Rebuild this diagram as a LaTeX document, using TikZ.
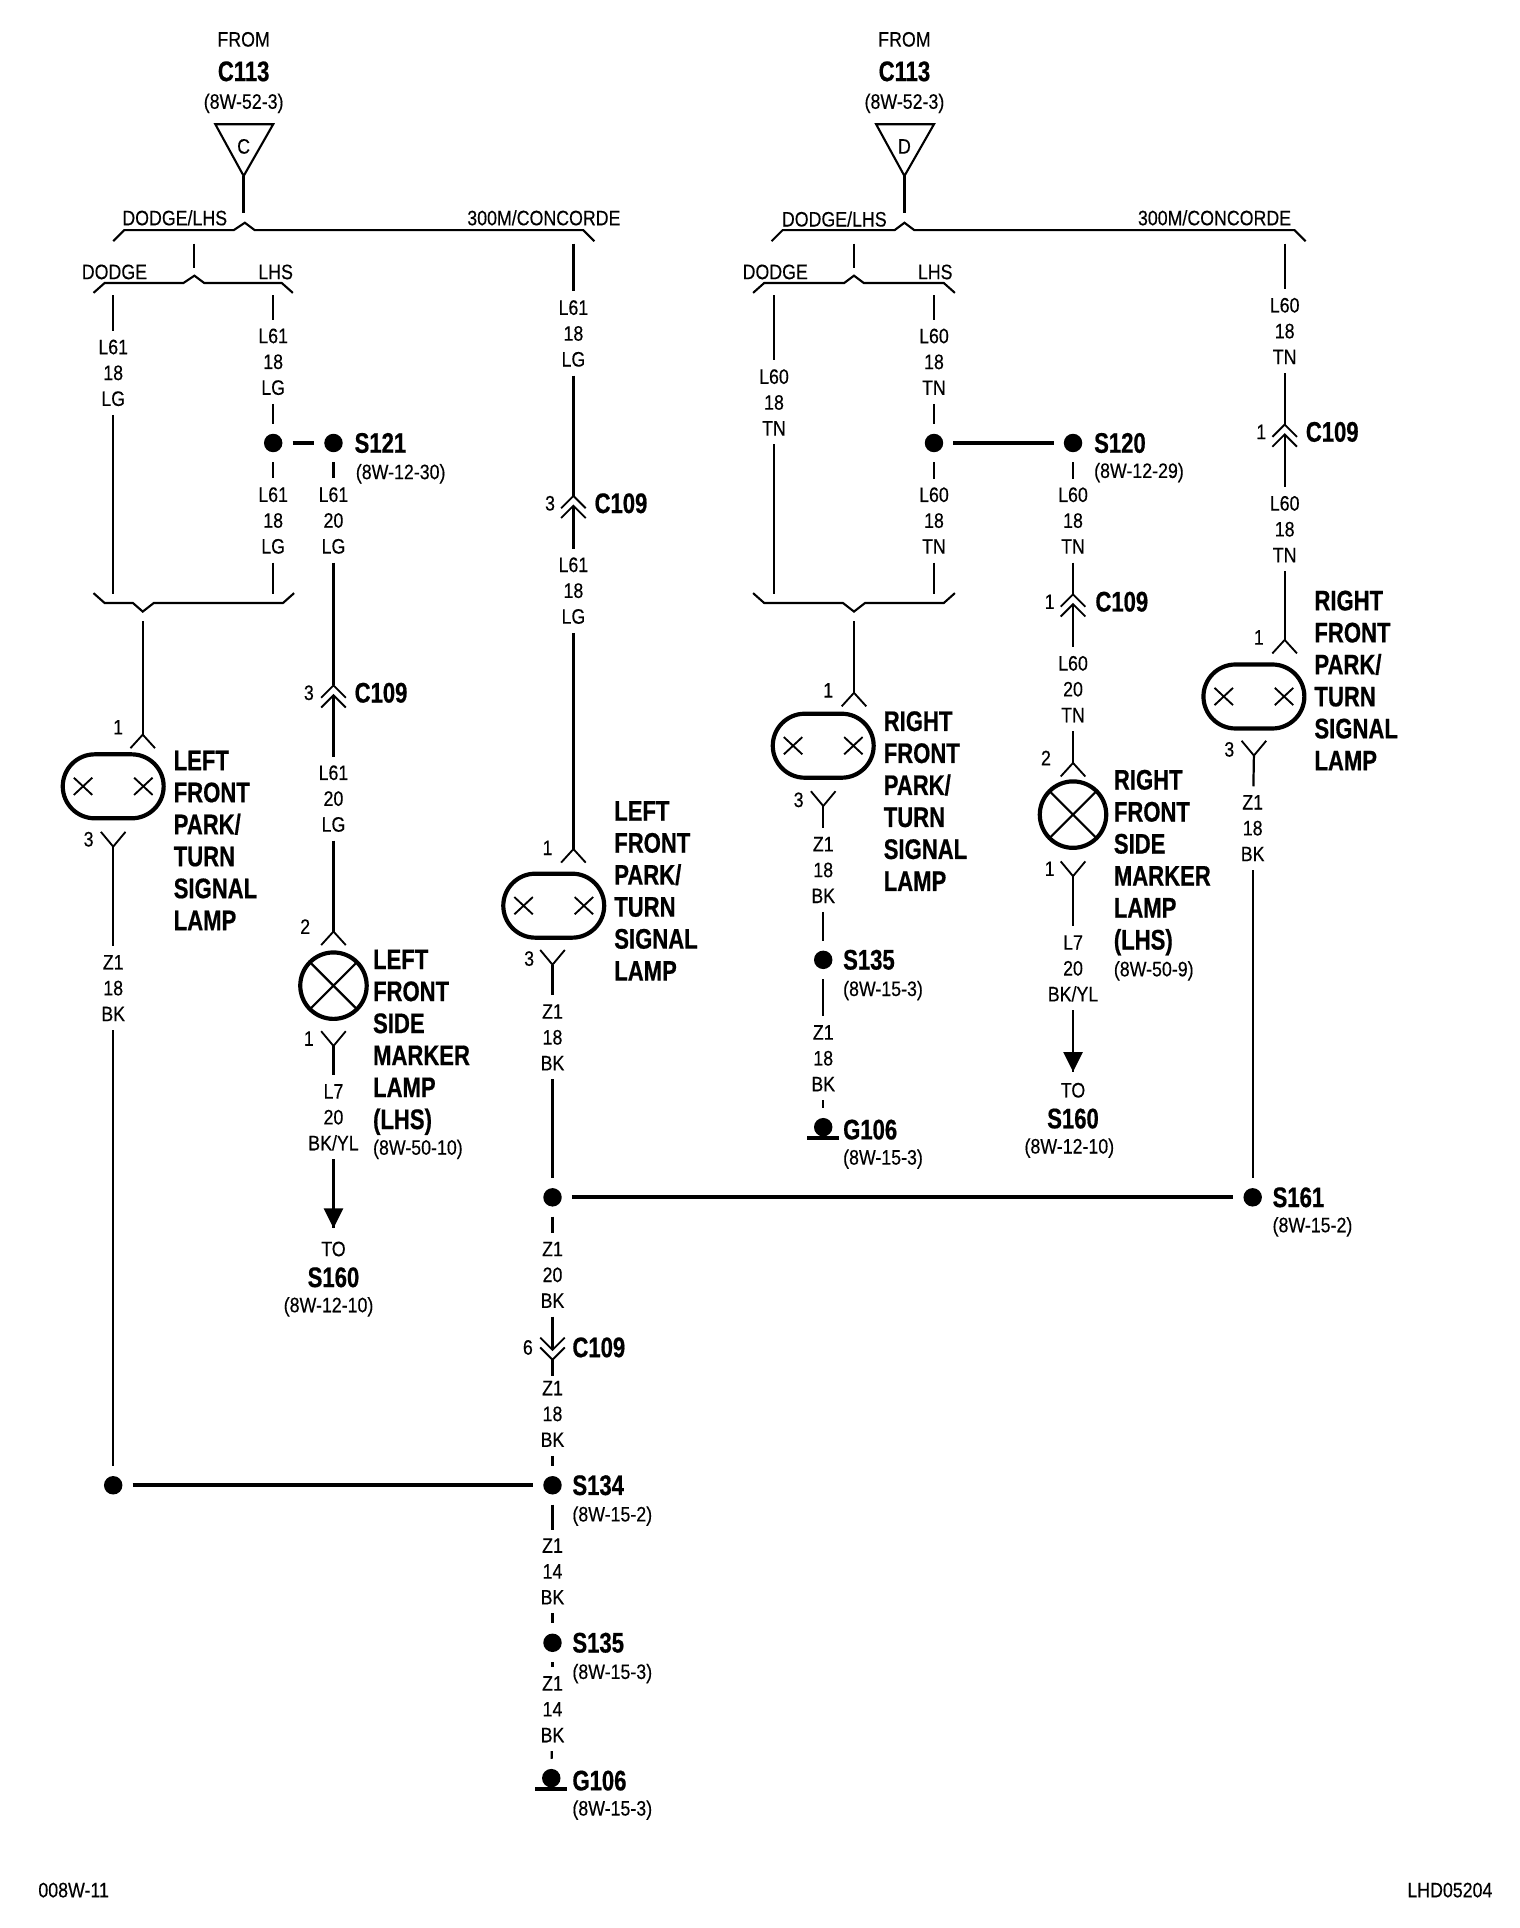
\documentclass[tikz,border=0pt]{standalone}
\usepackage{fontspec}
\setmainfont[FakeStretch=0.85,FakeBold=0.3]{Liberation Sans}
\newfontfamily\namefont[FakeStretch=0.78,FakeBold=0.6,UprightFont=* Bold]{Liberation Sans}
\usetikzlibrary{calc}
\tikzset{
    wire/.style={line width=1.8},
    bus/.style={line width=3},
    gap/.style={shorten >=8, shorten <=8},
    brace/.style={line width=1.7},
    txt/.style={font={\fontsize{17}{21}\selectfont}, inner sep=0, align=center},
    wirelbl/.style={txt, inner xsep=1, inner ysep=7},
    pinno/.style={font={\fontsize{17}{17}\selectfont}, inner sep=0},
    bname/.style={font={\namefont\fontsize{23}{23}\selectfont}, inner sep=0},
    lampname/.style={font={\namefont\fontsize{23}{26}\selectfont}, inner sep=0, align=left, anchor=west},
    ref/.style={txt, anchor=west},
    dot/.style={circle, fill=black, inner sep=0, minimum size=15},
    plugup/.pic={\draw[line width=1.5] (-10,11) -- (0,0) -- (10,11);},
    plugdown/.pic={\draw[line width=1.5] (-10,-12) -- (0,0) -- (10,-12);},
    dblup/.pic={\draw[line width=1.5] (-10,10) -- (0,0) -- (10,10) (-10,18) -- (0,8) -- (10,18);},
    dbldown/.pic={\draw[line width=1.5] (-10,-10) -- (0,0) -- (10,-10) (-10,-2) -- (0,8) -- (10,-2);},
    ovallamp/.pic={
        \draw[line width=3.4, rounded corners=26] (-41,-26) rectangle (41,26);
        \draw[line width=1.5] (-32,-7) -- (-17,7) (-32,7) -- (-17,-7) (17,-7) -- (32,7) (17,7) -- (32,-7);
    },
    roundlamp/.pic={
        \draw[line width=3.4] (0,0) circle [radius=27];
        \draw[line width=1.8] (45:27) -- (225:27) (135:27) -- (315:27);
    },
    earth/.pic={\draw[line width=3.2] (-13,9) -- (13,9);},
    arrowend/.pic={\fill (-8,-16) -- (8,-16) -- (0,0) -- cycle;}
}
\begin{document}
\begin{tikzpicture}[x=1pt,y=-1pt]
\useasboundingbox (0,0) rectangle (1235.2,1566.8);

% left feed
\node[txt] (fromC) at (198,32) {FROM};
\node[bname] (cC) at (198,58) {C113};
\node[txt] (refC) at (198,84) {(8W-52-3)};
\coordinate (triCa) at (175,101);
\coordinate (triCb) at (222,101);
\coordinate (tipC) at (198,143);
\draw[line width=1.7] (triCa) -- (triCb) -- (tipC) -- cycle;
\node[pinno] (letC) at (198,119) {C};
\coordinate (busC) at (198,173);
\draw[line width=2.2] (tipC) -- (busC);
\draw[brace] (92,196) -- (101,187) -- (190,187) -- (199,181) -- (207,187) -- (474,187) -- (483,196);
\node[txt] (dlC) at (142,177) {DODGE/LHS};
\node[txt] (cnC) at (442,177) {300M/CONCORDE};
\draw[brace] (158,198) -- (158,218);
\draw[brace] (76,238) -- (85,230) -- (149,230) -- (158,224) -- (166,230) -- (229,230) -- (238,238);
\node[txt] (doC) at (93,221) {DODGE};
\node[txt] (lhC) at (224,221) {LHS};

% left dodge wire
\coordinate (a1) at (92,240);
\coordinate (a2) at (92,483);
\node[wirelbl] (lblA) at (92,303) {L61\\18\\LG};
\draw[wire] (a1) -- (lblA);
\draw[wire] (lblA) -- (a2);

% left lhs wire
\coordinate (b1) at (222,240);
\coordinate (b2) at (222,483);
\node[wirelbl] (lblB) at (222,294) {L61\\18\\LG};
\node[dot] (dotB) at (222,360) {};
\node[wirelbl] (lblC) at (222,423) {L61\\18\\LG};
\draw[wire] (b1) -- (lblB);
\draw[wire, shorten >=8] (lblB) -- (dotB);
\draw[wire, shorten <=8] (dotB) -- (lblC);
\draw[wire] (lblC) -- (b2);

% S121 branch
\node[dot] (s121) at (271,360) {};
\node[bname, anchor=west] (s121t) at (288,360) {S121};
\node[ref] (s121r) at (289,385) {(8W-12-30)};
\draw[bus, gap] (dotB) -- (s121);
\node[wirelbl] (lblD) at (271,423) {L61\\20\\LG};
\coordinate (c109a) at (271,557);
\coordinate (c109b) at (271,565);
\node[wirelbl] (lblE) at (271,649) {L61\\20\\LG};
\coordinate (pinA) at (271,757);
\draw[wire, shorten <=8] (s121) -- (lblD);
\draw[wire] (lblD) -- (c109a);
\draw[wire] (c109b) -- (lblE);
\draw[wire] (lblE) -- (pinA);
\pic at (c109a) {dblup};
\node[pinno] (noA) at (251,563) {3};
\node[bname, anchor=west] (c109t) at (288,563) {C109};
\pic at (pinA) {plugup};
\node[pinno] (noB) at (248,753) {2};
\pic at (271,801) {roundlamp};
\node[lampname] (lampA) at (303,847) {LEFT\\FRONT\\SIDE\\MARKER\\LAMP\\(LHS)};
\node[ref] (lampAr) at (303,934) {(8W-50-10)};
\coordinate (pinB) at (271,850);
\pic at (pinB) {plugdown};
\node[pinno] (noC) at (251,844) {1};
\node[wirelbl] (lblF) at (271,908) {L7\\20\\BK/YL};
\coordinate (endA) at (271,998);
\draw[wire] (pinB) -- (lblF);
\draw[wire] (lblF) -- (endA);
\pic at (endA) {arrowend};
\node[txt] (toA) at (271,1015) {TO};
\node[bname] (toAn) at (271,1038) {S160};
\node[txt] (toAr) at (267,1062) {(8W-12-10)};

% left join and lamp
\draw[brace] (76,482) -- (85,490) -- (108,490) -- (116,497) -- (125,490) -- (230,490) -- (239,482);
\coordinate (d1) at (116,505);
\coordinate (pinC) at (116,597);
\draw[wire] (d1) -- (pinC);
\pic at (pinC) {plugup};
\node[pinno] (noD) at (96,591) {1};
\pic at (92,639) {ovallamp};
\node[lampname] (lampB) at (141,683) {LEFT\\FRONT\\PARK/\\TURN\\SIGNAL\\LAMP};
\coordinate (pinD) at (92,688);
\pic at (pinD) {plugdown};
\node[pinno] (noE) at (72,682) {3};
\node[wirelbl] (lblG) at (92,803) {Z1\\18\\BK};
\node[dot] (dotC) at (92,1207) {};
\draw[wire] (pinD) -- (lblG);
\draw[wire, shorten >=8] (lblG) -- (dotC);

% 300M/concorde left
\coordinate (e1) at (466,198);
\node[wirelbl] (lblH) at (466,271) {L61\\18\\LG};
\coordinate (c109c) at (466,403);
\coordinate (c109d) at (466,411);
\node[wirelbl] (lblI) at (466,480) {L61\\18\\LG};
\coordinate (pinE) at (466,690);
\draw[wire] (e1) -- (lblH);
\draw[wire] (lblH) -- (c109c);
\draw[wire] (c109d) -- (lblI);
\draw[wire] (lblI) -- (pinE);
\pic at (c109c) {dblup};
\node[pinno] (noF) at (447,409) {3};
\node[bname, anchor=west] (c109u) at (483,409) {C109};
\pic at (pinE) {plugup};
\node[pinno] (noG) at (445,689) {1};
\pic at (450,736) {ovallamp};
\node[lampname] (lampC) at (499,724) {LEFT\\FRONT\\PARK/\\TURN\\SIGNAL\\LAMP};
\coordinate (pinF) at (449,784);
\pic at (pinF) {plugdown};
\node[pinno] (noH) at (430,779) {3};
\node[wirelbl] (lblJ) at (449,843) {Z1\\18\\BK};
\node[dot] (s161a) at (449,973) {};
\node[dot] (s161) at (1018,973) {};
\node[bname, anchor=west] (s161t) at (1034,973) {S161};
\node[ref] (s161r) at (1034,997) {(8W-15-2)};
\draw[wire] (pinF) -- (lblJ);
\draw[wire, shorten >=8] (lblJ) -- (s161a);
\draw[bus, gap] (s161a) -- (s161);

% common ground run
\node[wirelbl] (lblK) at (449,1036) {Z1\\20\\BK};
\coordinate (c109e) at (449,1097);
\coordinate (c109f) at (449,1105);
\coordinate (c109k) at (449,1118);
\node[wirelbl] (lblL) at (449,1149) {Z1\\18\\BK};
\node[dot] (s134) at (449,1207) {};
\node[bname, anchor=west] (s134t) at (465,1207) {S134};
\node[ref] (s134r) at (465,1232) {(8W-15-2)};
\draw[wire, shorten <=8] (s161a) -- (lblK);
\draw[wire] (lblK) -- (c109e);
\draw[wire] (c109f) -- (c109k);
\pic at (c109e) {dbldown};
\node[pinno] (noI) at (429,1095) {6};
\node[bname, anchor=west] (c109v) at (465,1095) {C109};
\draw[wire, shorten >=8] (lblL) -- (s134);
\draw[bus, gap] (dotC) -- (s134);
\node[wirelbl] (lblM) at (449,1277) {Z1\\14\\BK};
\node[dot] (s135a) at (449,1335) {};
\node[bname, anchor=west] (s135at) at (465,1335) {S135};
\node[ref] (s135ar) at (465,1360) {(8W-15-3)};
\node[wirelbl] (lblN) at (449,1389) {Z1\\14\\BK};
\node[dot] (g106a) at (448,1445) {};
\pic at (g106a) {earth};
\node[bname, anchor=west] (g106at) at (465,1447) {G106};
\node[ref] (g106ar) at (465,1471) {(8W-15-3)};
\draw[wire, shorten <=8] (s134) -- (lblM);
\draw[wire, shorten >=8] (lblM) -- (s135a);
\draw[wire, shorten <=8] (s135a) -- (lblN);
\draw[wire, shorten >=8] (lblN) -- (g106a);

% right feed
\node[txt] (fromD) at (735,32) {FROM};
\node[bname] (cD) at (735,58) {C113};
\node[txt] (refD) at (735,84) {(8W-52-3)};
\coordinate (triDa) at (712,101);
\coordinate (triDb) at (759,101);
\coordinate (tipD) at (735,143);
\draw[line width=1.7] (triDa) -- (triDb) -- (tipD) -- cycle;
\node[pinno] (letD) at (735,119) {D};
\coordinate (busD) at (735,173);
\draw[line width=2.2] (tipD) -- (busD);
\draw[brace] (627,196) -- (636,187) -- (727,187) -- (735,181) -- (743,187) -- (1052,187) -- (1061,196);
\node[txt] (dlD) at (678,178) {DODGE/LHS};
\node[txt] (cnD) at (987,177) {300M/CONCORDE};
\draw[brace] (694,198) -- (694,218);
\draw[brace] (612,238) -- (621,230) -- (686,230) -- (694,224) -- (702,230) -- (767,230) -- (776,238);
\node[txt] (doD) at (630,221) {DODGE};
\node[txt] (lhD) at (760,221) {LHS};

% right dodge wire
\coordinate (f1) at (629,240);
\coordinate (f2) at (629,483);
\node[wirelbl] (lblO) at (629,327) {L60\\18\\TN};
\draw[wire] (f1) -- (lblO);
\draw[wire] (lblO) -- (f2);

% right lhs wire
\coordinate (g1) at (759,240);
\coordinate (g2) at (759,483);
\node[wirelbl] (lblP) at (759,294) {L60\\18\\TN};
\node[dot] (dotD) at (759,360) {};
\node[wirelbl] (lblQ) at (759,423) {L60\\18\\TN};
\draw[wire] (g1) -- (lblP);
\draw[wire, shorten >=8] (lblP) -- (dotD);
\draw[wire, shorten <=8] (dotD) -- (lblQ);
\draw[wire] (lblQ) -- (g2);

% S120 branch
\node[dot] (s120) at (872,360) {};
\node[bname, anchor=west] (s120t) at (889,360) {S120};
\node[ref] (s120r) at (889,384) {(8W-12-29)};
\draw[bus, gap] (dotD) -- (s120);
\node[wirelbl] (lblR) at (872,423) {L60\\18\\TN};
\coordinate (c109g) at (872,483);
\coordinate (c109h) at (872,491);
\node[wirelbl] (lblS) at (872,560) {L60\\20\\TN};
\coordinate (pinG) at (872,620);
\draw[wire, shorten <=8] (s120) -- (lblR);
\draw[wire] (lblR) -- (c109g);
\draw[wire] (c109h) -- (lblS);
\draw[wire] (lblS) -- (pinG);
\pic at (c109g) {dblup};
\node[pinno] (noJ) at (853,489) {1};
\node[bname, anchor=west] (c109w) at (890,489) {C109};
\pic at (pinG) {plugup};
\node[pinno] (noK) at (850,616) {2};
\pic at (872,662) {roundlamp};
\node[lampname] (lampD) at (905,701) {RIGHT\\FRONT\\SIDE\\MARKER\\LAMP\\(LHS)};
\node[ref] (lampDr) at (905,789) {(8W-50-9)};
\coordinate (pinH) at (872,712);
\pic at (pinH) {plugdown};
\node[pinno] (noL) at (853,706) {1};
\node[wirelbl] (lblT) at (872,787) {L7\\20\\BK/YL};
\coordinate (endB) at (872,871);
\draw[wire] (pinH) -- (lblT);
\draw[wire] (lblT) -- (endB);
\pic at (endB) {arrowend};
\node[txt] (toB) at (872,886) {TO};
\node[bname] (toBn) at (872,909) {S160};
\node[txt] (toBr) at (869,933) {(8W-12-10)};

% right join and lamp
\draw[brace] (612,482) -- (621,490) -- (685,490) -- (694,497) -- (703,490) -- (767,490) -- (776,482);
\coordinate (h1) at (694,505);
\coordinate (pinI) at (694,563);
\draw[wire] (h1) -- (pinI);
\pic at (pinI) {plugup};
\node[pinno] (noM) at (673,561) {1};
\pic at (669,606) {ovallamp};
\node[lampname] (lampE) at (718,651) {RIGHT\\FRONT\\PARK/\\TURN\\SIGNAL\\LAMP};
\coordinate (pinJ) at (669,655);
\pic at (pinJ) {plugdown};
\node[pinno] (noN) at (649,650) {3};
\node[wirelbl] (lblU) at (669,707) {Z1\\18\\BK};
\node[dot] (s135b) at (669,780) {};
\node[bname, anchor=west] (s135bt) at (685,780) {S135};
\node[ref] (s135br) at (685,805) {(8W-15-3)};
\node[wirelbl] (lblV) at (669,860) {Z1\\18\\BK};
\node[dot] (g106b) at (669,916) {};
\pic at (g106b) {earth};
\node[bname, anchor=west] (g106bt) at (685,918) {G106};
\node[ref] (g106br) at (685,942) {(8W-15-3)};
\draw[wire] (pinJ) -- (lblU);
\draw[wire, shorten >=8] (lblU) -- (s135b);
\draw[wire, shorten <=8] (s135b) -- (lblV);
\draw[wire, shorten >=8] (lblV) -- (g106b);

% 300M/concorde right
\coordinate (j1) at (1044,198);
\node[wirelbl] (lblW) at (1044,269) {L60\\18\\TN};
\coordinate (c109i) at (1044,345);
\coordinate (c109j) at (1044,353);
\node[wirelbl] (lblX) at (1044,430) {L60\\18\\TN};
\coordinate (pinK) at (1044,520);
\draw[wire] (j1) -- (lblW);
\draw[wire] (lblW) -- (c109i);
\draw[wire] (c109j) -- (lblX);
\draw[wire] (lblX) -- (pinK);
\pic at (c109i) {dblup};
\node[pinno] (noO) at (1025,351) {1};
\node[bname, anchor=west] (c109x) at (1061,351) {C109};
\pic at (pinK) {plugup};
\node[pinno] (noP) at (1023,518) {1};
\pic at (1019,566) {ovallamp};
\node[lampname] (lampF) at (1068,553) {RIGHT\\FRONT\\PARK/\\TURN\\SIGNAL\\LAMP};
\coordinate (pinL) at (1019,614);
\pic at (pinL) {plugdown};
\node[pinno] (noQ) at (999,609) {3};
\node[wirelbl] (lblY) at (1018,673) {Z1\\18\\BK};
\draw[wire] (pinL) -- (lblY);
\draw[wire, shorten >=8] (lblY) -- (s161);

\node[txt, anchor=west] (figno) at (31,1536) {008W-11};
\node[txt, anchor=east] (figid) at (1213,1536) {LHD05204};
\end{tikzpicture}
\end{document}
